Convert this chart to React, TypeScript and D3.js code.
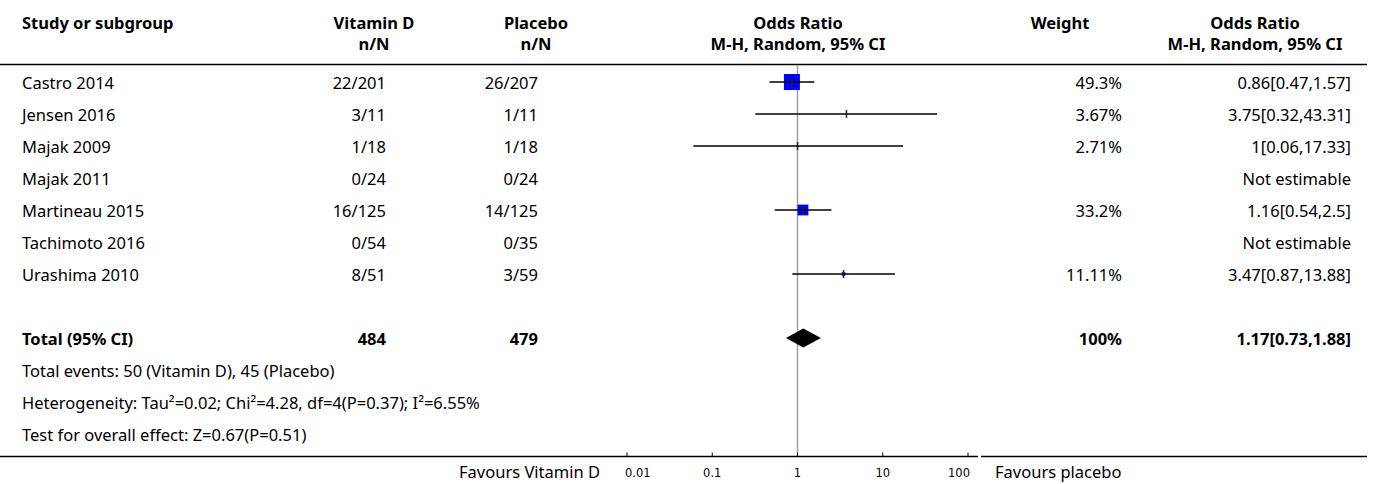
import React from 'react';
import * as d3 from 'd3';

// study rows
const studies = ['Castro 2014', 'Jensen 2016', 'Majak 2009', 'Majak 2011', 'Martineau 2015', 'Tachimoto 2016', 'Urashima 2010'];
const vitEvents = [22, 3, 1, 0, 16, 0, 8];
const vitTotal = [201, 11, 18, 24, 125, 54, 51];
const plaEvents = [26, 1, 1, 0, 14, 0, 3];
const plaTotal = [207, 11, 18, 24, 125, 35, 59];
const weights = [49.3, 3.67, 2.71, null, 33.2, null, 11.11];
const oddsRatio = [0.86, 3.75, 1, null, 1.16, null, 3.47];
const ciLow = [0.47, 0.32, 0.06, null, 0.54, null, 0.87];
const ciHigh = [1.57, 43.31, 17.33, null, 2.5, null, 13.88];

// pooled result
const total = { vit: 484, pla: 479, weight: 100, or: 1.17, lo: 0.73, hi: 1.88 };
const footnotes = [
  'Total events: 50 (Vitamin D), 45 (Placebo)',
  'Heterogeneity: Tau\u00b2=0.02; Chi\u00b2=4.28, df=4(P=0.37); I\u00b2=6.55%',
  'Test for overall effect: Z=0.67(P=0.51)',
];
const axisTicks = [0.01, 0.1, 1, 10, 100];

const FONT = '"Noto Sans", "Source Sans Pro", sans-serif';

export default function App() {
  const width = 1375, height = 484;
  const x = d3.scaleLog().domain([0.01, 100]).range([627, 968]);
  const rowY = (i: number) => 82 + i * 32;
  const totalY = rowY(8);
  const axisY = 456.5;
  const boxSize = d3.scaleLinear().domain([0, 49.3]).range([0, 16]);

  const cols = { study: 22, vit: 386, pla: 538, weight: 1122, orTxt: 1351 };
  const fmt = (v: number) => String(v);

  return (
    <svg width={width} height={height} style={{ position: 'absolute', left: 0, top: 0, fontFamily: FONT, fontSize: 16.5 }}>
      {/* headers */}
      <g fontWeight="bold" dominantBaseline="central">
        <text x={cols.study} y={22}>Study or subgroup</text>
        <text x={374} y={22} textAnchor="middle">Vitamin D</text>
        <text x={374} y={43} textAnchor="middle">n/N</text>
        <text x={536} y={22} textAnchor="middle">Placebo</text>
        <text x={536} y={43} textAnchor="middle">n/N</text>
        <text x={798} y={22} textAnchor="middle">Odds Ratio</text>
        <text x={798} y={43} textAnchor="middle">M-H, Random, 95% CI</text>
        <text x={1060} y={22} textAnchor="middle">Weight</text>
        <text x={1255} y={22} textAnchor="middle">Odds Ratio</text>
        <text x={1255} y={43} textAnchor="middle">M-H, Random, 95% CI</text>
      </g>
      <line x1={0} x2={1367} y1={64.5} y2={64.5} stroke="#000" strokeWidth={1.3} />

      {/* null line */}
      <line x1={x(1)} x2={x(1)} y1={65} y2={axisY} stroke="#a0a0a0" strokeWidth={1.5} />

      {/* study rows */}
      {studies.map((s, i) => {
        const y = rowY(i);
        const w = weights[i];
        const or = oddsRatio[i];
        const lo = ciLow[i];
        const hi = ciHigh[i];
        const side = w == null ? 0 : Math.max(1.5, boxSize(w));
        const tick = Math.max(8, side * 0.7);
        return (
          <g key={s}>
            <text x={cols.study} y={y} dominantBaseline="central">{s}</text>
            <text x={cols.vit} y={y} textAnchor="end" dominantBaseline="central">{`${vitEvents[i]}/${vitTotal[i]}`}</text>
            <text x={cols.pla} y={y} textAnchor="end" dominantBaseline="central">{`${plaEvents[i]}/${plaTotal[i]}`}</text>
            {w != null && (
              <text x={cols.weight} y={y} textAnchor="end" dominantBaseline="central">{`${fmt(w)}%`}</text>
            )}
            <text x={cols.orTxt} y={y} textAnchor="end" dominantBaseline="central">
              {or == null ? 'Not estimable' : `${fmt(or)}[${fmt(lo as number)},${fmt(hi as number)}]`}
            </text>
            {or != null && (
              <g>
                <rect x={x(or) - side / 2} y={y - side / 2} width={side} height={side} fill="#0000ff" />
                <line x1={x(lo as number)} x2={x(hi as number)} y1={y} y2={y} stroke="#000" strokeWidth={1.5} />
                <line x1={x(or)} x2={x(or)} y1={y - tick / 2} y2={y + tick / 2} stroke="#222" strokeWidth={1.5} />
              </g>
            )}
          </g>
        );
      })}

      {/* total row */}
      <g fontWeight="bold" dominantBaseline="central">
        <text x={cols.study} y={totalY}>Total (95% CI)</text>
        <text x={cols.vit} y={totalY} textAnchor="end">{total.vit}</text>
        <text x={cols.pla} y={totalY} textAnchor="end">{total.pla}</text>
        <text x={cols.weight} y={totalY} textAnchor="end">{`${total.weight}%`}</text>
        <text x={cols.orTxt} y={totalY} textAnchor="end">{`${total.or}[${total.lo},${total.hi}]`}</text>
      </g>
      <path
        d={`M${x(total.lo)},${totalY}L${x(total.or)},${totalY - 9.5}L${x(total.hi)},${totalY}L${x(total.or)},${totalY + 9.5}Z`}
        fill="#000"
      />

      {/* footnotes */}
      {footnotes.map((f, i) => (
        <text key={f} x={cols.study} y={rowY(9 + i)} dominantBaseline="central">{f}</text>
      ))}

      {/* bottom axis */}
      <line x1={0} x2={978} y1={axisY} y2={axisY} stroke="#000" strokeWidth={1.3} />
      <line x1={981} x2={1367} y1={axisY} y2={axisY} stroke="#000" strokeWidth={1.3} />
      {axisTicks.map((t, i) => (
        <g key={t}>
          <line x1={x(t)} x2={x(t)} y1={axisY - 4} y2={axisY} stroke="#000" strokeWidth={1} />
          <text
            x={x(t)}
            y={477}
            fontFamily="DejaVu Sans, sans-serif"
            fontSize={11.5}
            textAnchor={i === 0 ? 'start' : i === axisTicks.length - 1 ? 'end' : 'middle'}
            dx={i === 0 ? -2 : i === axisTicks.length - 1 ? 2 : 0}
          >
            {t}
          </text>
        </g>
      ))}
      <text x={600} y={478} textAnchor="end">Favours Vitamin D</text>
      <text x={995} y={478}>Favours placebo</text>
    </svg>
  );
}
